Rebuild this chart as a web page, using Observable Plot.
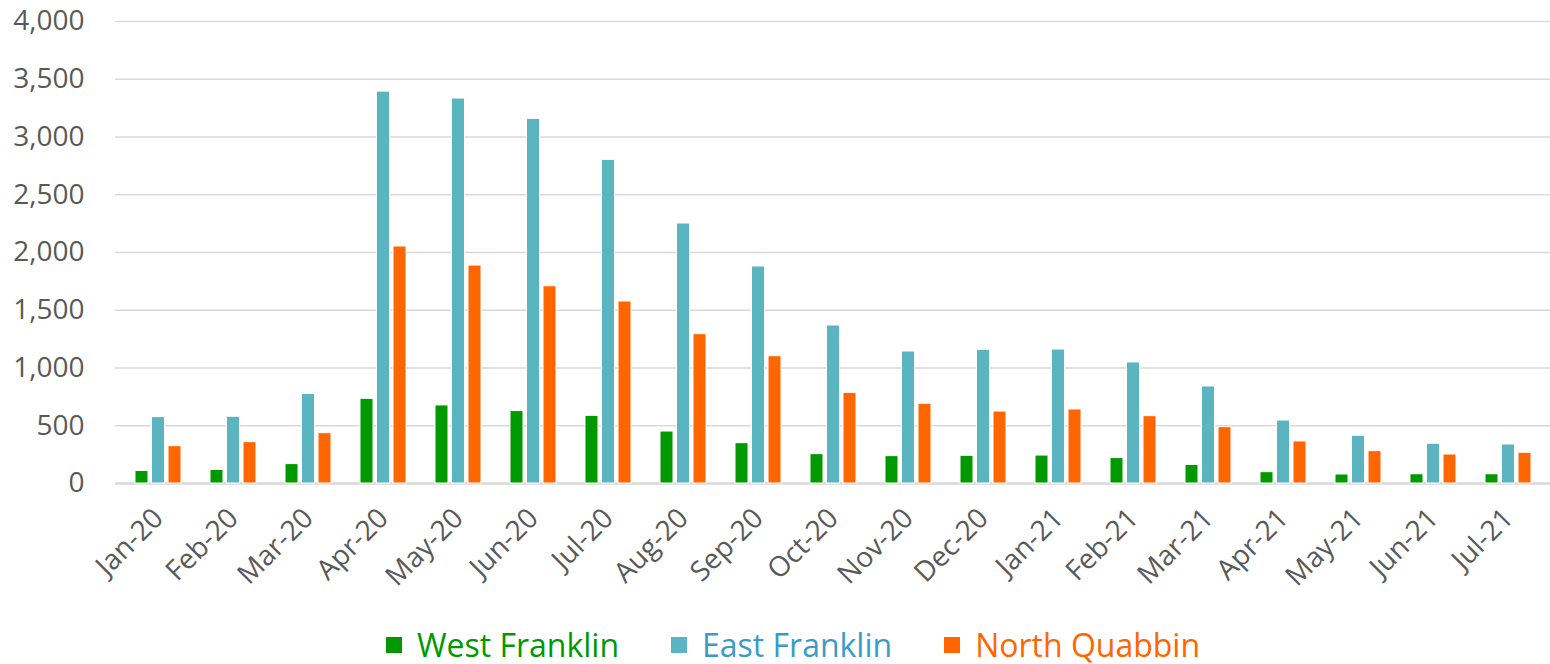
<!DOCTYPE html>
<html>
<head>
<meta charset="utf-8">
<script src="https://cdn.jsdelivr.net/npm/d3@7"></script>
<script src="https://cdn.jsdelivr.net/npm/@observablehq/plot@0.6"></script>
<style>
  html, body { margin: 0; padding: 0; background: #fff; }
  #chart svg { display: block; }
  #legend {
    display: flex; justify-content: center; align-items: center;
    height: 36px; padding-left: 36px; padding-top: 12px; box-sizing: content-box;
    font-family: "Open Sans", sans-serif; font-size: 32px; line-height: 1; width: 1514px;
  }
  .item { display: flex; align-items: center; margin: 0 26px; }
  .sw { width: 16px; height: 16px; margin-right: 15px; }
</style>
</head>
<body>
<div id="chart"></div>
<div id="legend"></div>
<script>
const months = ["Jan-20","Feb-20","Mar-20","Apr-20","May-20","Jun-20","Jul-20","Aug-20","Sep-20","Oct-20","Nov-20","Dec-20","Jan-21","Feb-21","Mar-21","Apr-21","May-21","Jun-21","Jul-21"];
const westFranklin = [108, 118, 168, 733, 676, 627, 586, 450, 349, 254, 237, 240, 242, 220, 160, 98, 78, 80, 80];
const eastFranklin = [575, 578, 776, 3393, 3333, 3157, 2802, 2251, 1879, 1368, 1143, 1157, 1160, 1048, 840, 545, 413, 344, 338];
const northQuabbin = [323, 358, 436, 2052, 1887, 1708, 1576, 1293, 1102, 785, 690, 623, 641, 583, 488, 364, 280, 251, 266];
const seriesNames = ["West Franklin", "East Franklin", "North Quabbin"];
const seriesColors = ["#009900", "#5ab5c0", "#ff6600"];
const legendTextColors = ["#009900", "#3a9cc6", "#ff6600"];
const yTicks = [0, 500, 1000, 1500, 2000, 2500, 3000, 3500, 4000];

const seriesValues = [westFranklin, eastFranklin, northQuabbin];
const tables = seriesValues.map(vals => months.map((m, i) => ({month: m, value: vals[i]})));

// Each month band holds three bars; insets place each series in its third.
const barW = 13, pitch = 16.5, band = 46;
const barMarks = tables.map((t, k) => Plot.barY(t, {
  x: "month", y: "value",
  fill: seriesColors[k], stroke: "#fff", strokeWidth: 1,
  insetLeft: k * pitch, insetRight: band - k * pitch - barW
}));

const chart = Plot.plot({
  width: 1550, height: 615,
  marginLeft: 115, marginRight: 0, marginTop: 21, marginBottom: 132,
  style: {fontFamily: "Open Sans, sans-serif", fontSize: "28px", color: "#595959", background: "#fff"},
  x: {domain: months, paddingInner: 0.39, paddingOuter: 0.195, tickSize: 0, tickRotate: -45, tickPadding: 30, label: null},
  y: {domain: [0, 4000], ticks: yTicks, tickFormat: d3.format(","), tickSize: 0, tickPadding: 31, label: null},
  marks: [
    Plot.ruleY(yTicks.filter(d => d > 0), {stroke: "#d9d9d9", strokeWidth: 1.5}),
    Plot.ruleY([0], {stroke: "#d9d9d9", strokeWidth: 2.5}),
    ...barMarks
  ]
});
document.getElementById("chart").appendChild(chart);

const legend = document.getElementById("legend");
seriesNames.forEach((name, k) => {
  const it = document.createElement("div");
  it.className = "item";
  const sw = document.createElement("div");
  sw.className = "sw";
  sw.style.background = seriesColors[k];
  const tx = document.createElement("span");
  tx.textContent = name;
  tx.style.color = legendTextColors[k];
  it.appendChild(sw); it.appendChild(tx);
  legend.appendChild(it);
});
</script>
</body>
</html>
